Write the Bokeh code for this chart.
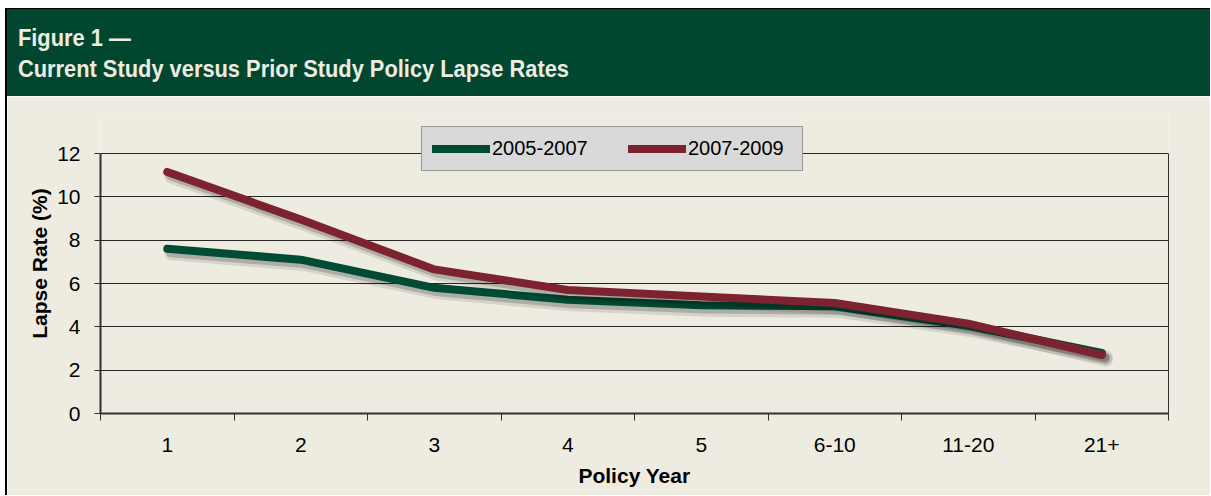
from bokeh.plotting import figure
from bokeh.models import (Range1d, LinearAxis, FixedTicker, Legend, LegendItem,
                          ColumnDataSource, Grid, Div)
from bokeh.transform import dodge
from bokeh.layouts import column
from bokeh.embed import file_html
from bokeh.resources import INLINE

# ---- data ----
categories = ["1", "2", "3", "4", "5", "6-10", "11-20", "21+"]
lapse_2005_2007 = [7.6, 7.1, 5.8, 5.25, 5.0, 4.95, 4.05, 2.8]
lapse_2007_2009 = [11.15, 8.95, 6.65, 5.7, 5.4, 5.1, 4.15, 2.7]
y_ticks = [0, 2, 4, 6, 8, 10, 12]
series_names = ["2005-2007", "2007-2009"]
title_line1 = "Figure 1 \u2014"
title_line2 = "Current Study versus Prior Study Policy Lapse Rates"
x_title = "Policy Year"
y_title = "Lapse Rate (%)"

# ---- style ----
W = 1203
HEAD_H = 87
MAIN_H = 399
BEIGE = "#EEECE1"
HEAD_GREEN = "#01472F"
GREEN = "#004B33"
RED = "#7C2230"
AXIS = "#303030"
FONT = "Liberation Sans"

Y_MAX = y_ticks[-1]
Y_TOP = Y_MAX * 300 / 260   # head-room inside the frame so the legend can sit above the 12 line

# ---- header ----
head = Div(
    text=(f'<div style="padding:13px 0 0 12px; font-family:\'Liberation Sans\',Arial,sans-serif;'
          f'font-weight:bold; font-size:24px; line-height:31px; color:{BEIGE}; white-space:nowrap;'
          f'transform:scaleX(0.91); transform-origin:0 0;">'
          f'{title_line1}<br>{title_line2}</div>'),
    width=W, height=HEAD_H,
    styles={"background-color": HEAD_GREEN, "margin": "0", "padding": "0", "overflow": "hidden"})

# ---- main chart ----
n = len(categories)
slot = list(range(n + 1))                 # category boundaries
centers = [i + 0.5 for i in range(n)]     # category centres on the slot scale

p = figure(width=W, height=MAIN_H,
           x_range=Range1d(0, n), y_range=Range1d(0, Y_TOP),
           toolbar_location=None, output_backend="svg",
           x_axis_location=None, y_axis_location=None,
           min_border_left=93, min_border_right=42, min_border_top=17, min_border_bottom=82)
p.border_fill_color = BEIGE
p.background_fill_color = BEIGE
p.outline_line_color = None
for gr in p.grid:
    gr.visible = False
    gr.grid_line_color = None
p.center = [c for c in p.center if not isinstance(c, Grid)]

xaxis = LinearAxis(ticker=FixedTicker(ticks=centers, minor_ticks=slot),
                   major_label_overrides={c: lab for c, lab in zip(centers, categories)})
xaxis.axis_line_color = AXIS
xaxis.axis_line_width = 2
xaxis.major_tick_line_color = None
xaxis.major_tick_in = 0
xaxis.major_tick_out = 0
xaxis.minor_tick_line_color = AXIS
xaxis.minor_tick_line_width = 1
xaxis.minor_tick_in = 0
xaxis.minor_tick_out = 7
xaxis.major_label_standoff = 17
xaxis.major_label_text_font = FONT
xaxis.major_label_text_font_size = "21px"
xaxis.major_label_text_color = "black"
xaxis.axis_label = x_title
xaxis.axis_label_text_font = FONT
xaxis.axis_label_text_font_style = "bold"
xaxis.axis_label_text_font_size = "21px"
xaxis.axis_label_text_color = "black"
xaxis.axis_label_standoff = 9
p.add_layout(xaxis, "below")

yaxis = LinearAxis(ticker=FixedTicker(ticks=y_ticks), bounds=(0, Y_MAX))
yaxis.axis_line_color = AXIS
yaxis.axis_line_width = 2
yaxis.major_tick_line_color = AXIS
yaxis.major_tick_in = 0
yaxis.major_tick_out = 6
yaxis.minor_tick_line_color = None
yaxis.major_label_standoff = 14
yaxis.major_label_text_font = FONT
yaxis.major_label_text_font_size = "21px"
yaxis.major_label_text_color = "black"
yaxis.axis_label = y_title
yaxis.axis_label_text_font = FONT
yaxis.axis_label_text_font_style = "bold"
yaxis.axis_label_text_font_size = "21px"
yaxis.axis_label_text_color = "black"
yaxis.axis_label_standoff = 3
p.add_layout(yaxis, "left")

# right-hand border of the plot area
yaxis_r = LinearAxis(ticker=FixedTicker(ticks=[]), bounds=(0, Y_MAX))
yaxis_r.axis_line_color = AXIS
yaxis_r.axis_line_width = 1
yaxis_r.major_tick_line_color = None
yaxis_r.minor_tick_line_color = None
p.add_layout(yaxis_r, "right")

p.add_layout(Grid(dimension=1, ticker=FixedTicker(ticks=y_ticks),
                  grid_line_color="#262626", grid_line_width=1))

src = ColumnDataSource(dict(x=centers, cat=categories, a=lapse_2005_2007, b=lapse_2007_2009))

def series(field, color):
    p.line(x=dodge("x", 0.03), y=dodge(field, -0.21), source=src,
           line_color="black", line_alpha=0.10, line_width=14, line_cap="round", line_join="round")
    p.line(x=dodge("x", 0.025), y=dodge(field, -0.18), source=src,
           line_color="black", line_alpha=0.18, line_width=9, line_cap="round", line_join="round")
    return p.line(x="x", y=field, source=src, line_color=color, line_width=8,
                  line_cap="round", line_join="round")

g = series("a", GREEN)
r = series("b", RED)

legend = Legend(items=[LegendItem(label=series_names[0], renderers=[g]),
                       LegendItem(label=series_names[1], renderers=[r])],
                orientation="horizontal", location=(321, 242), padding=10, margin=0,
                glyph_width=58, glyph_height=23, label_height=23, label_width=104,
                label_standoff=2, spacing=32,
                background_fill_color="#D9D9D9", background_fill_alpha=1,
                border_line_color="#595959", border_line_width=1.5,
                label_text_font=FONT, label_text_font_size="20px", label_text_color="black")
p.add_layout(legend, "center")

layout = column(head, p, spacing=0,
                styles={"margin-top": "8px", "margin-left": "5px",
                        "border-left": "2px solid #000", "border-top": "1px solid #000"})

open("out.html", "w").write(file_html(layout, INLINE))
